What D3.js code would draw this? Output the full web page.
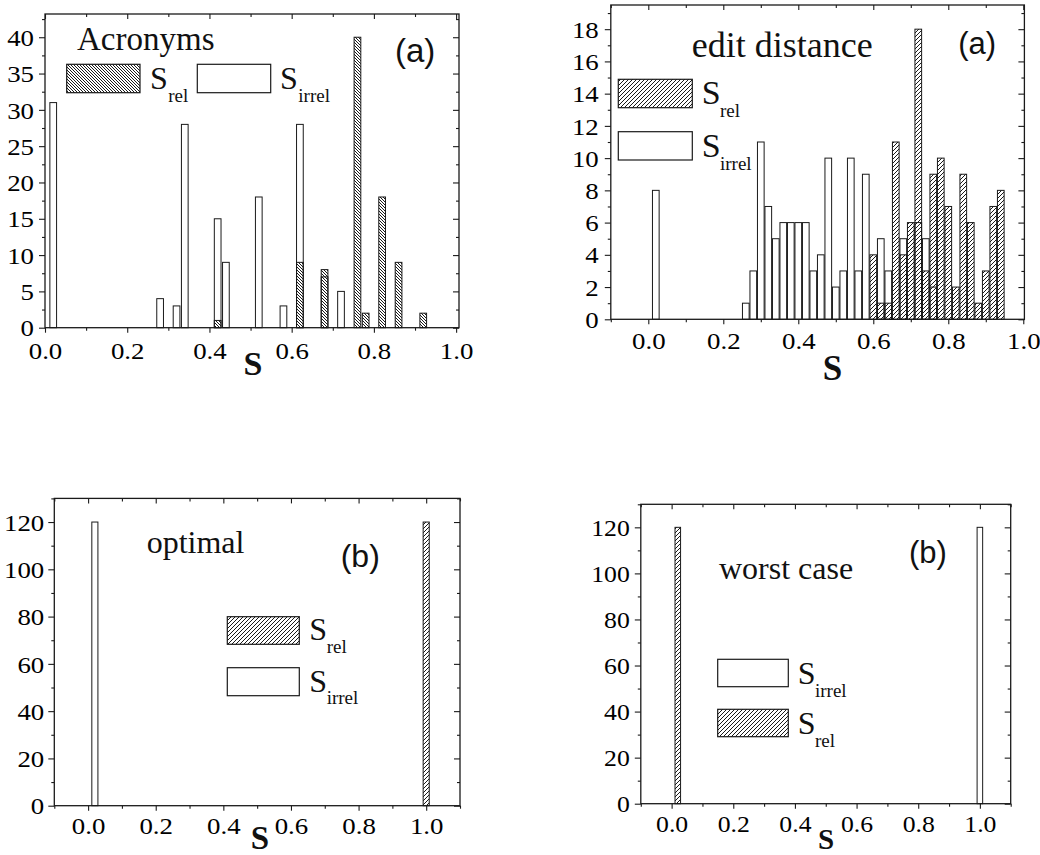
<!DOCTYPE html>
<html>
<head>
<meta charset="utf-8">
<script src="https://cdn.jsdelivr.net/npm/d3@7"></script>
<style>
  html, body { margin: 0; padding: 0; background: #fff; }
  svg { display: block; }
  .tick text.num { font-family: 'Liberation Serif', 'Times New Roman', Times, serif !important; }
</style>
</head>
<body>
<svg id="fig" width="1040" height="855"></svg>
<script>
// ---- Histogram data: bin centre (S) and count for each series ----
const acrRelBins     = [0.42, 0.62, 0.68, 0.76, 0.78, 0.82, 0.86, 0.92];
const acrRelCounts   = [1, 9, 8, 40, 2, 18, 9, 2];
const acrIrrelBins   = [0.02, 0.28, 0.32, 0.34, 0.42, 0.44, 0.52, 0.58, 0.62, 0.68, 0.72];
const acrIrrelCounts = [31, 4, 3, 28, 15, 9, 18, 3, 28, 7, 5];

const editRelBins     = [0.60, 0.62, 0.64, 0.66, 0.68, 0.70, 0.72, 0.74, 0.76, 0.78, 0.80, 0.82, 0.84, 0.86, 0.88, 0.90, 0.92, 0.94];
const editRelCounts   = [4, 1, 1, 11, 4, 6, 18, 3, 9, 10, 7, 2, 9, 6, 1, 3, 7, 8];
const editIrrelBins   = [0.02, 0.26, 0.28, 0.30, 0.32, 0.34, 0.36, 0.38, 0.40, 0.42, 0.44, 0.46, 0.48, 0.50, 0.52, 0.54, 0.56, 0.58, 0.62, 0.64, 0.68, 0.72, 0.74, 0.76];
const editIrrelCounts = [8, 1, 3, 11, 7, 5, 6, 6, 6, 6, 3, 4, 10, 2, 3, 10, 3, 9, 5, 3, 5, 6, 5, 2];

const optRelBins     = [1.00];
const optRelCounts   = [120];
const optIrrelBins   = [0.02];
const optIrrelCounts = [120];

const worstRelBins     = [0.02];
const worstRelCounts   = [120];
const worstIrrelBins   = [1.00];
const worstIrrelCounts = [120];

// ---- Tick labels ----
const sTicks        = [0.0, 0.2, 0.4, 0.6, 0.8, 1.0];
const sMinorTicks   = [-0.1, 0.0, 0.1, 0.2, 0.3, 0.4, 0.5, 0.6, 0.7, 0.8, 0.9, 1.0, 1.1];
const acrYTicks     = [0, 5, 10, 15, 20, 25, 30, 35, 40];
const acrYMinor     = [2.5, 7.5, 12.5, 17.5, 22.5, 27.5, 32.5, 37.5, 42.5];
const editYTicks    = [0, 2, 4, 6, 8, 10, 12, 14, 16, 18];
const editYMinor    = [1, 3, 5, 7, 9, 11, 13, 15, 17, 19];
const countYTicks   = [0, 20, 40, 60, 80, 100, 120];
const countYMinor   = [10, 30, 50, 70, 90, 110, 130];

// ---- Text ----
const panelTitles = ["Acronyms", "edit distance", "optimal", "worst case"];
const panelTags   = ["(a)", "(a)", "(b)", "(b)"];
const relName   = "rel";
const irrelName = "irrel";
const axisName  = "S";

// ---- Layout and styling ----
const SERIF = "'Liberation Serif', 'Times New Roman', Times, serif";
const SANS  = "'Liberation Sans', Arial, Helvetica, sans-serif";
const INK = "#1a1a1a";
const NUM_STRETCH = 1.12;   // tick numerals are set slightly wide

const svg = d3.select("#fig");
const defs = svg.append("defs");

// pixel-crisp diagonal hatching; dir = +1 for "/", -1 for "\"
function hatch(id, period, dir) {
  const p = defs.append("pattern")
    .attr("id", id)
    .attr("patternUnits", "userSpaceOnUse")
    .attr("width", period).attr("height", period);
  d3.range(period).forEach(i => {
    p.append("rect")
      .attr("x", dir > 0 ? period - 1 - i : i).attr("y", i)
      .attr("width", 1).attr("height", 1)
      .attr("fill", INK)
      .attr("shape-rendering", "crispEdges");
  });
}
hatch("hatchBack", 3, -1);   // dense "\\\\" fill
hatch("hatchFwd", 4, 1);     // "////" fill

const panels = [
  {
    box: { left: 45, right: 459, top: 14, bottom: 327.7 },
    xDomain: [0, 1.007], yDomain: [0, 43.2],
    sMinor: sMinorTicks.filter(d => d >= 0 && d <= 1.0),
    yTicks: acrYTicks, yMinor: acrYMinor.filter(d => d < 43.2),
    rel: { bins: acrRelBins, counts: acrRelCounts },
    irrel: { bins: acrIrrelBins, counts: acrIrrelCounts },
    barWidth: 0.0163, hatchId: "hatchBack",
    tickFont: 24, tickBaseline: 359, yLabelGap: 5,
    title: { text: panelTitles[0], x: 77, y: 50, size: 33 },
    tag: { text: panelTags[0], x: 395, y: 62, size: 33 },
    xLabel: { x: 253, y: 375, size: 34 },
    legend: [
      { kind: "rel",   box: [66.7, 64.3, 140, 92.7],   sx: 150, sy: 89, subx: 168.3, suby: 101.7, sSize: 32, subSize: 19 },
      { kind: "irrel", box: [197.3, 64.3, 270.7, 92.7], sx: 280, sy: 89, subx: 298.3, suby: 101.7, sSize: 32, subSize: 19 }
    ]
  },
  {
    box: { left: 610.8, right: 1024.4, top: 5, bottom: 319.3 },
    xDomain: [-0.1, 1.003], yDomain: [0, 19.5],
    sMinor: sMinorTicks.filter(d => d <= 1.0),
    yTicks: editYTicks, yMinor: editYMinor,
    rel: { bins: editRelBins, counts: editRelCounts },
    irrel: { bins: editIrrelBins, counts: editIrrelCounts },
    barWidth: 0.0178, hatchId: "hatchFwd",
    tickFont: 24, tickBaseline: 349, yLabelGap: 6,
    title: { text: panelTitles[1], x: 691.7, y: 56.7, size: 36 },
    tag: { text: panelTags[1], x: 958.3, y: 54, size: 31 },
    xLabel: { x: 832.5, y: 380, size: 35 },
    legend: [
      { kind: "rel",   box: [618.3, 79.3, 692.3, 107.7],  sx: 701.7, sy: 104,   subx: 720, suby: 116.7, sSize: 34, subSize: 19 },
      { kind: "irrel", box: [618.3, 131.7, 692.3, 160],   sx: 701.7, sy: 156.7, subx: 720, suby: 170,   sSize: 34, subSize: 19 }
    ]
  },
  {
    box: { left: 54.3, right: 460, top: 498.4, bottom: 805.7 },
    xDomain: [-0.1, 1.1], yDomain: [0, 130],
    sMinor: sMinorTicks,
    yTicks: countYTicks, yMinor: countYMinor,
    rel: { bins: optRelBins, counts: optRelCounts },
    irrel: { bins: optIrrelBins, counts: optIrrelCounts },
    barWidth: 0.018, hatchId: "hatchFwd",
    tickFont: 24, tickBaseline: 834, yLabelGap: 4,
    title: { text: panelTitles[2], x: 146.7, y: 553, size: 32 },
    tag: { text: panelTags[2], x: 340.7, y: 566.7, size: 32 },
    xLabel: { x: 260, y: 849, size: 33 },
    legend: [
      { kind: "rel",   box: [227.3, 616.7, 299.3, 644.3], sx: 309.3, sy: 640,   subx: 326.7, suby: 653.3, sSize: 32, subSize: 19 },
      { kind: "irrel", box: [227.3, 667.7, 299.3, 695.7], sx: 309.3, sy: 691.7, subx: 326.7, suby: 704,   sSize: 32, subSize: 19 }
    ]
  },
  {
    box: { left: 640.8, right: 1010.7, top: 504.3, bottom: 803.7 },
    xDomain: [-0.1, 1.1], yDomain: [0, 130],
    sMinor: sMinorTicks,
    yTicks: countYTicks, yMinor: countYMinor,
    rel: { bins: worstRelBins, counts: worstRelCounts },
    irrel: { bins: worstIrrelBins, counts: worstIrrelCounts },
    barWidth: 0.018, hatchId: "hatchFwd",
    tickFont: 23, tickBaseline: 832, yLabelGap: 5,
    title: { text: panelTitles[3], x: 719, y: 579, size: 32 },
    tag: { text: panelTags[3], x: 909, y: 563, size: 31 },
    xLabel: { x: 826, y: 849, size: 29 },
    legend: [
      { kind: "irrel", box: [717.7, 659.3, 788.3, 686.7], sx: 797.7, sy: 684.3, subx: 815, suby: 696.7, sSize: 32, subSize: 19 },
      { kind: "rel",   box: [717.7, 709.3, 788.3, 736.7], sx: 797.7, sy: 734.3, subx: 815, suby: 746.7, sSize: 32, subSize: 19 }
    ]
  }
];

const fmtS = d3.format(".1f");
const fmtY = d3.format("d");

panels.forEach(p => {
  const b = p.box;
  const x = d3.scaleLinear().domain(p.xDomain).range([b.left, b.right]);
  const y = d3.scaleLinear().domain(p.yDomain).range([b.bottom, b.top]);
  const g = svg.append("g");

  // bars: irrelevant set (white) underneath, relevant set (hatched, see-through) on top
  const drawBars = (series, fill) => {
    const rows = series.bins.map((c, i) => ({ c, v: series.counts[i] }));
    g.append("g").selectAll("rect").data(rows).join("rect")
      .attr("x", d => x(d.c - p.barWidth / 2))
      .attr("width", d => x(d.c + p.barWidth / 2) - x(d.c - p.barWidth / 2))
      .attr("y", d => y(d.v))
      .attr("height", d => y(0) - y(d.v))
      .attr("fill", fill)
      .attr("stroke", INK)
      .attr("stroke-width", 1);
  };
  drawBars(p.irrel, "#fff");
  drawBars(p.rel, `url(#${p.hatchId})`);

  // axes
  const styleAxis = sel => {
    sel.attr("font-family", SERIF).attr("font-size", p.tickFont);
    sel.select(".domain").remove();
    sel.selectAll("line").attr("stroke", INK).attr("stroke-width", 1.1);
  };
  // tick numerals: serif, slightly widened about their anchor point
  const styleNumerals = (sel, ox, oy) => {
    sel.selectAll(".tick text").each(function () {
      const t = d3.select(this);
      const tx = ox(t), ty = oy(t);
      t.classed("num", true)
        .attr("x", 0).attr("y", 0)
        .attr("transform", `translate(${tx},${ty}) scale(${NUM_STRETCH},1)`)
        .attr("font-family", SERIF)
        .attr("font-size", p.tickFont)
        .style("font-family", SERIF)
        .style("font-size", p.tickFont + "px")
        .attr("fill", "#000");
    });
  };
  const xMinorVals = p.sMinor.filter(d => sTicks.indexOf(d) < 0);

  // bottom: outward ticks, labelled every 0.2
  const bottom = g.append("g").attr("transform", `translate(0,${b.bottom})`)
    .call(d3.axisBottom(x).tickValues(sTicks).tickSize(5).tickFormat(fmtS));
  styleAxis(bottom);
  bottom.selectAll(".tick text").attr("dy", null);
  styleNumerals(bottom, () => 0, () => p.tickBaseline - b.bottom);
  g.append("g").attr("transform", `translate(0,${b.bottom})`)
    .call(d3.axisBottom(x).tickValues(xMinorVals).tickSize(3).tickFormat(""))
    .call(styleAxis);

  // top: inward ticks
  g.append("g").attr("transform", `translate(0,${b.top})`)
    .call(d3.axisTop(x).tickValues(sTicks).tickSize(-5).tickFormat(""))
    .call(styleAxis);
  g.append("g").attr("transform", `translate(0,${b.top})`)
    .call(d3.axisTop(x).tickValues(xMinorVals).tickSize(-3).tickFormat(""))
    .call(styleAxis);

  // left: outward ticks with labels
  const left = g.append("g").attr("transform", `translate(${b.left},0)`)
    .call(d3.axisLeft(y).tickValues(p.yTicks).tickSize(6).tickPadding(p.yLabelGap).tickFormat(fmtY));
  styleAxis(left);
  left.selectAll(".tick text").attr("dy", "0.34em");
  styleNumerals(left, t => +t.attr("x"), () => 0);
  g.append("g").attr("transform", `translate(${b.left},0)`)
    .call(d3.axisLeft(y).tickValues(p.yMinor).tickSize(3).tickFormat(""))
    .call(styleAxis);

  // right: inward ticks
  g.append("g").attr("transform", `translate(${b.right},0)`)
    .call(d3.axisRight(y).tickValues(p.yTicks).tickSize(-6).tickFormat(""))
    .call(styleAxis);
  g.append("g").attr("transform", `translate(${b.right},0)`)
    .call(d3.axisRight(y).tickValues(p.yMinor).tickSize(-3).tickFormat(""))
    .call(styleAxis);

  // frame
  g.append("rect")
    .attr("x", b.left).attr("y", b.top)
    .attr("width", b.right - b.left).attr("height", b.bottom - b.top)
    .attr("fill", "none").attr("stroke", INK).attr("stroke-width", 1.3);

  // axis title
  g.append("text")
    .attr("x", p.xLabel.x).attr("y", p.xLabel.y)
    .attr("text-anchor", "middle")
    .attr("font-family", SERIF).attr("font-weight", "bold")
    .attr("font-size", p.xLabel.size).attr("fill", "#111")
    .text(axisName);

  // panel title and tag
  g.append("text")
    .attr("x", p.title.x).attr("y", p.title.y)
    .attr("font-family", SERIF).attr("font-size", p.title.size).attr("fill", "#111")
    .text(p.title.text);
  g.append("text")
    .attr("x", p.tag.x).attr("y", p.tag.y)
    .attr("font-family", SANS).attr("font-size", p.tag.size).attr("fill", "#111")
    .text(p.tag.text);

  // legend
  p.legend.forEach(L => {
    const [x0, y0, x1, y1] = L.box;
    g.append("rect")
      .attr("x", x0).attr("y", y0).attr("width", x1 - x0).attr("height", y1 - y0)
      .attr("fill", L.kind === "rel" ? `url(#${p.hatchId})` : "#fff")
      .attr("stroke", INK).attr("stroke-width", 1.2);
    const t = g.append("text").attr("font-family", SERIF).attr("fill", "#111");
    t.append("tspan").attr("x", L.sx).attr("y", L.sy).attr("font-size", L.sSize).text(axisName);
    t.append("tspan").attr("x", L.subx).attr("y", L.suby).attr("font-size", L.subSize)
      .text(L.kind === "rel" ? relName : irrelName);
  });
});
</script>
</body>
</html>
